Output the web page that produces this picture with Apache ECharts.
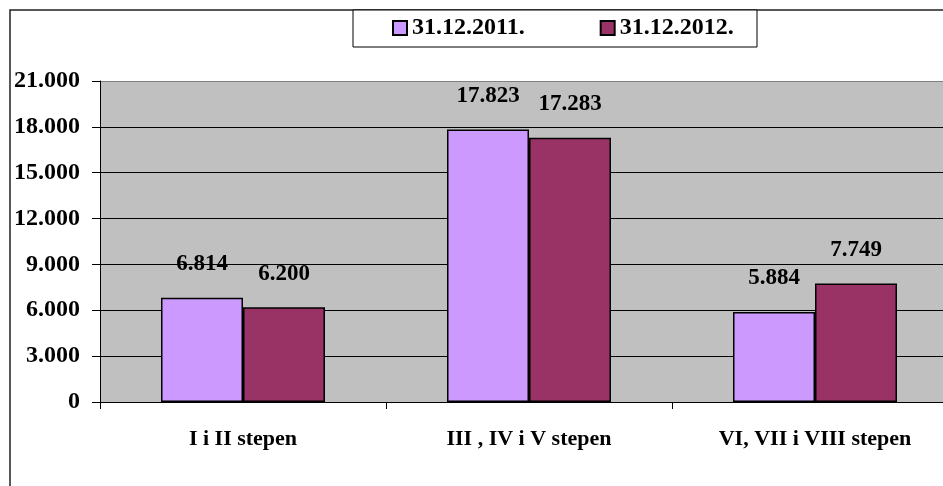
<!DOCTYPE html>
<html>
<head>
<meta charset="utf-8">
<script src="https://cdn.jsdelivr.net/npm/echarts@6/dist/echarts.min.js"></script>
<style>
html,body{margin:0;padding:0;background:#fff;overflow:hidden;width:943px;height:486px;}
#chart{width:980px;height:486px;}
</style>
</head>
<body>
<div id="chart"></div>
<script>
var categories = ['I i II stepen', 'III , IV i V stepen', 'VI, VII i VIII stepen'];
var seriesNames = ['31.12.2011.', '31.12.2012.'];
var values2011 = [6814, 17823, 5884];
var values2012 = [6200, 17283, 7749];
var yTickLabels = ['0', '3.000', '6.000', '9.000', '12.000', '15.000', '18.000', '21.000'];

function fmt(v) {
  return String(v).replace(/\B(?=(\d{3})+(?!\d))/g, '.');
}

var FONT = 'Liberation Serif, Times New Roman, serif';
var chart = echarts.init(document.getElementById('chart'), null, {renderer: 'canvas'});

var labelStyle = {
  show: true,
  position: 'top',
  distance: 22,
  fontFamily: FONT,
  fontWeight: 'bold',
  fontSize: 23,
  color: '#000',
  formatter: function (p) { return fmt(p.value); }
};

var splitColors = ['#000', '#000', '#000', '#000', '#000', '#000', '#000', '#808080'];

chart.setOption({
  animation: false,
  backgroundColor: '#fff',
  graphic: [
    {type: 'rect', shape: {x: 10, y: 10, width: 1000, height: 1000}, style: {fill: 'none', stroke: '#222', lineWidth: 1.5}, z: 0},
    {type: 'rect', shape: {x: 353, y: 10, width: 404, height: 37}, style: {fill: '#fff', stroke: '#000', lineWidth: 1}, z: 1}
  ],
  legend: {
    left: 392,
    top: 16,
    padding: 0,
    itemGap: 75,
    itemWidth: 14,
    itemHeight: 14,
    icon: 'rect',
    z: 5,
    textStyle: {fontFamily: FONT, fontWeight: 'bold', fontSize: 24, color: '#000'},
    data: seriesNames
  },
  grid: {
    left: 100,
    top: 81,
    width: 858,
    height: 321,
    show: true,
    backgroundColor: '#c0c0c0',
    borderWidth: 0
  },
  xAxis: {
    type: 'category',
    data: categories,
    axisLine: {lineStyle: {color: '#000', width: 1}},
    axisTick: {show: true, length: 7, lineStyle: {color: '#000'}},
    axisLabel: {margin: 26, fontFamily: FONT, fontWeight: 'bold', fontSize: 22, color: '#000'}
  },
  yAxis: {
    type: 'value',
    min: 0,
    max: 21000,
    interval: 3000,
    axisLine: {show: true, lineStyle: {color: '#000', width: 1}},
    axisTick: {show: true, length: 8, lineStyle: {color: '#000'}},
    splitLine: {show: true, lineStyle: {color: splitColors, width: 1}},
    axisLabel: {
      margin: 20,
      fontFamily: FONT, fontWeight: 'bold', fontSize: 24, color: '#000',
      formatter: function (v) { return yTickLabels[Math.round(v / 3000)]; }
    }
  },
  series: [
    {
      name: seriesNames[0],
      type: 'bar',
      data: values2011,
      barWidth: 82,
      barGap: '0%',
      itemStyle: {color: '#cc99ff', borderColor: '#000', borderWidth: 1.5},
      label: labelStyle
    },
    {
      name: seriesNames[1],
      type: 'bar',
      data: values2012,
      barWidth: 82,
      barGap: '0%',
      itemStyle: {color: '#993366', borderColor: '#000', borderWidth: 1.5},
      label: labelStyle
    }
  ]
});
</script>
</body>
</html>
